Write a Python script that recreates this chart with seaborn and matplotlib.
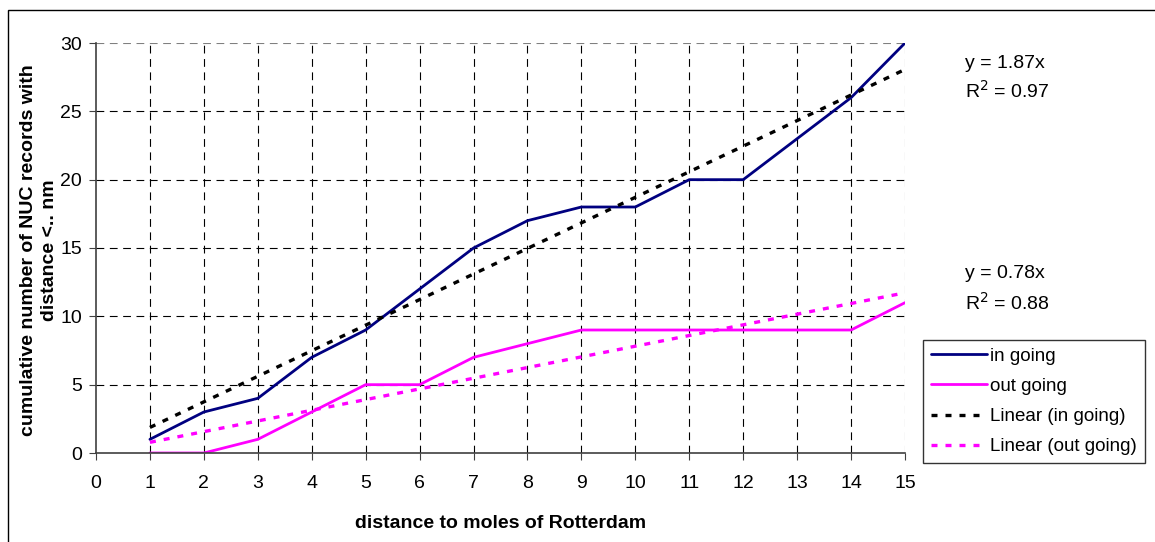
import matplotlib
matplotlib.use("Agg")
import matplotlib.pyplot as plt
import numpy as np
import pandas as pd
import seaborn as sns
from matplotlib.patches import Rectangle

# data
distance = [1, 2, 3, 4, 5, 6, 7, 8, 9, 10, 11, 12, 13, 14, 15]
in_going = [1, 3, 4, 7, 9, 12, 15, 17, 18, 18, 20, 20, 23, 26, 30]
out_going = [0, 0, 1, 3, 5, 5, 7, 8, 9, 9, 9, 9, 9, 9, 11]
r2_in = "0.97"
r2_out = "0.88"

navy = "#000080"
magenta = "#FF00FF"

sns.set_style("white")
plt.rcParams["font.family"] = ["Liberation Sans", "DejaVu Sans"]
plt.rcParams["text.color"] = "black"
plt.rcParams["axes.labelcolor"] = "black"
plt.rcParams["xtick.labelcolor"] = "black"
plt.rcParams["ytick.labelcolor"] = "black"

x = np.array(distance, dtype=float)


def origin_fit(y):
    # linear trend forced through origin, like the Excel trendline
    slope = np.linalg.lstsq(x[:, None], np.array(y, dtype=float), rcond=None)[0][0]
    return slope


k_in = origin_fit(in_going)
k_out = origin_fit(out_going)

df = pd.DataFrame({
    "x": distance,
    "in going": in_going,
    "out going": out_going,
    "Linear (in going)": k_in * x,
    "Linear (out going)": k_out * x,
})

fig = plt.figure(figsize=(11.55, 5.42), dpi=100)
ax = fig.add_axes([96 / 1155, 1 - 453 / 542, (905 - 96) / 1155, (453 - 43) / 542])

# outer chart border
fig.patches.append(Rectangle((8 / 1155, -0.2), 1.2, 1.2 - 10 / 542,
                             transform=fig.transFigure, fill=False,
                             edgecolor="black", linewidth=1.0))

# grid
for v in range(1, 16):
    ax.axvline(v, color="black" if v < 15 else "#808080", lw=0.8,
               linestyle=(0, (7, 5)), zorder=0)
for v in range(5, 31, 5):
    ax.axhline(v, color="black" if v < 30 else "#808080", lw=0.8,
               linestyle=(0, (7, 5)), zorder=0)

sns.lineplot(data=df, x="x", y="in going", color=navy, lw=2.0, ax=ax,
             label="in going")
sns.lineplot(data=df, x="x", y="out going", color=magenta, lw=2.0, ax=ax,
             label="out going")
sns.lineplot(data=df, x="x", y="Linear (in going)", color="black", lw=2.4,
             ax=ax, label="Linear (in going)")
sns.lineplot(data=df, x="x", y="Linear (out going)", color=magenta, lw=2.4,
             ax=ax, label="Linear (out going)")
for ln in ax.lines[-2:]:
    ln.set_linestyle((0, (1.8, 2.4)))

ax.set_xlim(0, 15)
ax.set_ylim(0, 30)
ax.set_xticks(range(0, 16))
ax.set_yticks(range(0, 31, 5))
ax.tick_params(axis="both", labelsize=14, length=5, width=0.8, color="#404040",
               direction="out", pad=5, bottom=True, left=True)
ax.tick_params(axis="x", pad=11)
for s in ["top", "right"]:
    ax.spines[s].set_visible(False)
for s in ["left", "bottom"]:
    ax.spines[s].set_color("#404040")
    ax.spines[s].set_linewidth(1.2)

ax.set_xlabel("distance to moles of Rotterdam", fontsize=14, fontweight="bold")
ax.xaxis.set_label_coords(0.5, -(515 - 453) / 410)
ax.set_ylabel("cumulative number of NUC records with\ndistance <.. nm",
              fontsize=14, fontweight="bold", linespacing=1.3)
ax.yaxis.set_label_coords(-(96 - 58) / 809, (453 - 250) / 410)

# trendline equations
fig.text(965 / 1155, 1 - 63 / 542, "y = %.2fx" % k_in, fontsize=14, va="center")
fig.text(965 / 1155, 1 - 91 / 542, "R$^2$ = " + r2_in, fontsize=14, va="center")
fig.text(965 / 1155, 1 - 274 / 542, "y = %.2fx" % k_out, fontsize=14, va="center")
fig.text(965 / 1155, 1 - 303 / 542, "R$^2$ = " + r2_out, fontsize=14, va="center")

leg = ax.legend(loc="upper left", bbox_to_anchor=(923 / 1155, 1 - 340 / 542),
                bbox_transform=fig.transFigure, fontsize=13.5, frameon=True,
                fancybox=False, edgecolor="black", handlelength=3.0,
                handletextpad=0.2, labelspacing=0.7, borderpad=0.4,
                borderaxespad=0)
leg.get_frame().set_linewidth(1.0)

fig.savefig("out.png", dpi=100)
